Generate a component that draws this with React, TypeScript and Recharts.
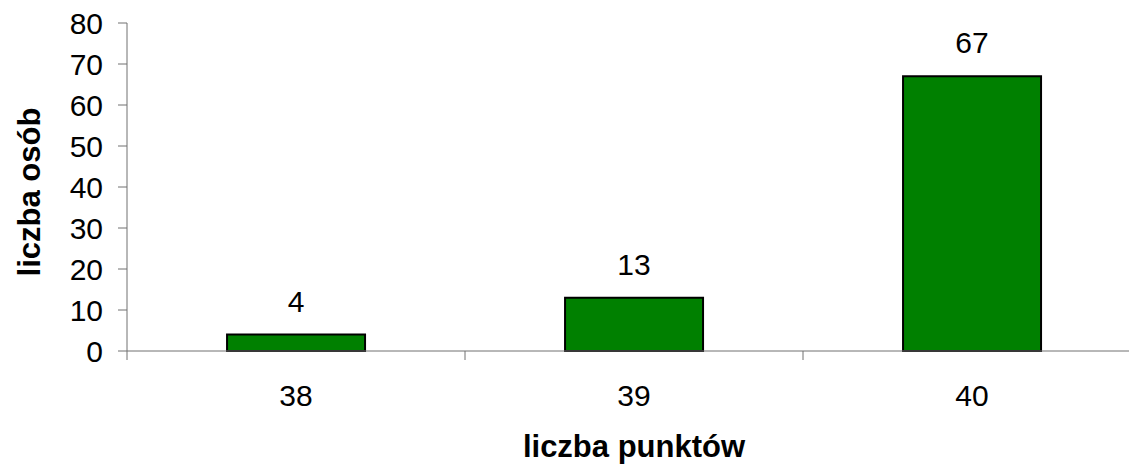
import React from 'react';
import { BarChart, Bar, XAxis, YAxis, LabelList, Label } from 'recharts';

const categories = ['38', '39', '40'];
const counts = [4, 13, 67];
const yTicks = [0, 10, 20, 30, 40, 50, 60, 70, 80];

const data = categories.map((c, i) => ({ punkty: c, osoby: counts[i] }));

const FONT = '"Liberation Sans", Arial, sans-serif';
const AXIS_COLOR = '#707070';
const TICK_SIZE = 9;
const X_TICK_MARGIN = 25;

const XTick = (props: any) => {
  const { x, y, payload } = props;
  const off = payload && payload.offset ? payload.offset : 0;
  const lineX = x - off;
  const axisY = y - X_TICK_MARGIN - TICK_SIZE;
  return (
    <g>
      <line x1={lineX} x2={lineX} y1={axisY} y2={axisY + TICK_SIZE} stroke={AXIS_COLOR} strokeWidth={1} />
      <text x={x} y={y} dy="0.71em" textAnchor="middle" fill="#000" fontSize={30} fontFamily={FONT}>
        {payload.value}
      </text>
    </g>
  );
};

const YTitle = (props: any) => {
  const vb = props.viewBox || { x: 0, y: 0, width: 0, height: 0 };
  const cx = vb.x + 40;
  const cy = vb.y + vb.height / 2 + 5;
  return (
    <text
      x={cx}
      y={cy}
      transform={`rotate(-90 ${cx} ${cy})`}
      textAnchor="middle"
      fill="#000"
      fontSize={31}
      fontWeight="bold"
      fontFamily={FONT}
    >
      liczba osób
    </text>
  );
};

export default function App() {
  return (
    <div style={{ position: 'absolute', left: 0, top: 0, width: 1129, height: 473, overflow: 'hidden', background: '#fff' }}>
      <BarChart
        width={1145}
        height={473}
        data={data}
        margin={{ top: 23, right: 4, bottom: 0, left: 0 }}
        barCategoryGap="29.6%"
      >
        <XAxis
          dataKey="punkty"
          height={122}
          tickLine={false}
          tickSize={TICK_SIZE}
          tickMargin={X_TICK_MARGIN}
          axisLine={{ stroke: AXIS_COLOR, strokeWidth: 1 }}
          tick={<XTick />}
          interval={0}
        >
          <Label
            value="liczba punktów"
            position="insideBottom"
            offset={16}
            fill="#000"
            fontSize={31}
            fontWeight="bold"
            fontFamily={FONT}
          />
        </XAxis>
        <YAxis
          width={127}
          domain={[0, 80]}
          ticks={yTicks}
          interval={0}
          tickSize={TICK_SIZE}
          tickMargin={15}
          axisLine={{ stroke: AXIS_COLOR, strokeWidth: 1 }}
          tickLine={{ stroke: AXIS_COLOR, strokeWidth: 1 }}
          tick={{ fill: '#000', fontSize: 30, fontFamily: FONT }}
        >
          <Label content={<YTitle />} />
        </YAxis>
        <Bar dataKey="osoby" fill="#008000" stroke="#000" strokeWidth={2} isAnimationActive={false}>
          <LabelList dataKey="osoby" position="top" offset={23} fill="#000" fontSize={30} fontFamily={FONT} />
        </Bar>
      </BarChart>
    </div>
  );
}
